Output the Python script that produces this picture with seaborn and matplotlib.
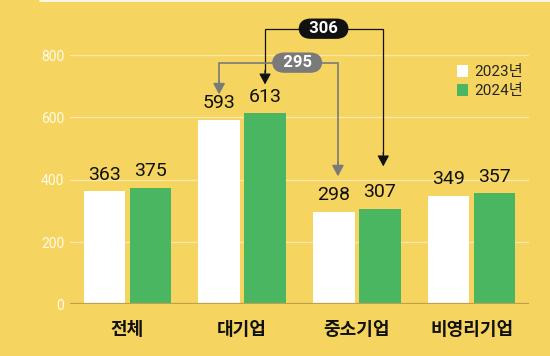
import numpy as np
import pandas as pd
import matplotlib
matplotlib.use('Agg')
import matplotlib.pyplot as plt
from matplotlib.lines import Line2D
from matplotlib.patches import Patch
import seaborn as sns

# data
categories = ['전체', '대기업', '중소기업', '비영리기업']
years = ['2023년', '2024년']
v2023 = [363, 593, 298, 349]
v2024 = [375, 613, 307, 357]
yticks = [0, 200, 400, 600, 800]

BG = '#F5D45F'; GREEN = '#4BB662'; GRAY = '#7A7A7A'; INK = '#111111'; BASE = '#BFA04C'

df = pd.DataFrame({'cat': categories * 2,
                   'year': [years[0]] * len(categories) + [years[1]] * len(categories),
                   'val': v2023 + v2024})

sns.set_style('white')
plt.rcParams['font.family'] = ['Roboto', 'Noto Sans CJK KR', 'DejaVu Sans']

fig = plt.figure(figsize=(5.5, 3.56), dpi=100)
fig.patch.set_facecolor(BG)
ax = fig.add_axes([0.127, 0.145, 0.835, 0.700])
ax.set_facecolor(BG)

sns.barplot(data=df, x='cat', y='val', hue='year', palette=['white', GREEN],
            width=0.8, gap=0.1, saturation=1, linewidth=0, ax=ax, zorder=2)

for cont in ax.containers:
    ax.bar_label(cont, padding=5.5, fontsize=14, color=INK)

ax.set_xlim(-0.5, 3.5)
ax.set_ylim(0, 800)
ax.set_yticks(yticks)
ax.yaxis.grid(True, color='#FBE8A8', lw=1)
ax.set_axisbelow(True)
ax.axhline(0, color=BASE, lw=1.6, zorder=3)
for sp in ax.spines.values():
    sp.set_visible(False)
ax.set_xlabel(''); ax.set_ylabel('')
ax.tick_params(axis='y', length=0, pad=4, labelsize=10, labelcolor='#FFFBEA')
ax.tick_params(axis='x', length=0, pad=11, labelsize=13, labelcolor=INK)
for t in ax.get_xticklabels():
    t.set_fontfamily(['Noto Sans CJK KR'])
    t.set_fontweight('bold')

# legend
ax.get_legend().remove()
handles = [Patch(facecolor='white', edgecolor='none'), Patch(facecolor=GREEN, edgecolor='none')]
fig.legend(handles, years, loc='upper left', bbox_to_anchor=(0.830, 0.818),
           frameon=False, fontsize=11, handlelength=0.75, handleheight=0.85,
           handletextpad=0.4, labelspacing=0.3, borderpad=0, borderaxespad=0)

# difference connectors (2023 vs 2024 gaps between 대기업 and 중소기업)
def connector(x0, y0, x1, y1, top, text, color, lw, px):
    ax.plot([x0, x0, x1, x1], [y0 + 40, top, top, y1 + 40], color=color, lw=lw,
            clip_on=False, zorder=4, solid_joinstyle='miter')
    for xx, yy in [(x0, y0), (x1, y1)]:
        ax.annotate('', xy=(xx, yy), xytext=(xx, yy + 45),
                    arrowprops=dict(arrowstyle='-|>,head_length=0.5,head_width=0.27',
                                    color=color, lw=lw, mutation_scale=13,
                                    shrinkA=0, shrinkB=0),
                    annotation_clip=False, zorder=4)
    ax.text(px, top, f'  {text}  ', ha='center', va='center', color='white',
            fontsize=12, fontweight='bold', zorder=5, clip_on=False,
            bbox=dict(boxstyle='round,pad=0.16,rounding_size=0.75', fc=color, ec='none'))

connector(1 + 0.2, 706, 2 + 0.23, 443, 885, v2024[1] - v2024[2], INK, 0.9, 1.71)
connector(1 - 0.2, 674, 2 - 0.165, 411, 776, v2023[1] - v2023[2], GRAY, 1.2, 1.48)

fig.add_artist(Line2D([40 / 550, 1], [1 - 0.7 / 356] * 2, color='white', lw=1.2,
                      transform=fig.transFigure))

fig.savefig('out.png', dpi=100, facecolor=BG)
